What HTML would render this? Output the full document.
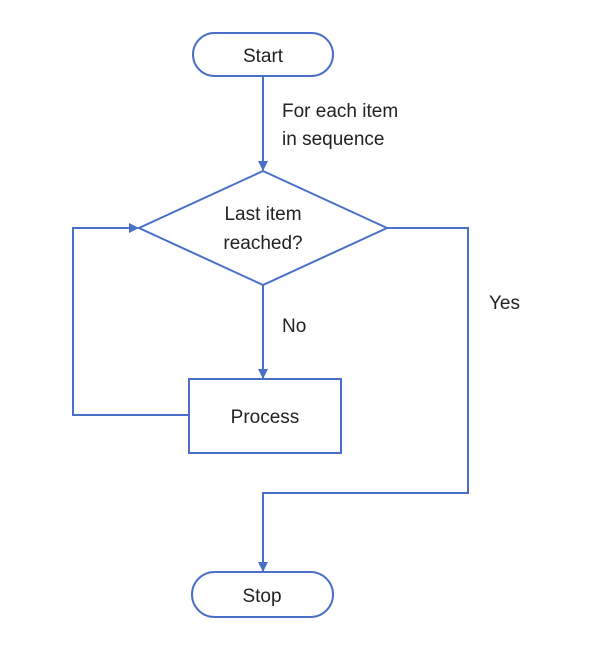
<!DOCTYPE html>
<html><head><style>body{margin:0;background:#fff}svg{display:block}</style></head><body>
<svg width="607" height="647" viewBox="0 0 607 647" xmlns="http://www.w3.org/2000/svg">
<defs><marker id="a" markerWidth="10" markerHeight="10" refX="9" refY="5" orient="auto" markerUnits="userSpaceOnUse"><path d="M0,0 L10,5 L0,10 z" fill="#4a6fc8"/></marker></defs>
<g fill="none" stroke="#4a6fc8" stroke-width="2">
<rect x="193" y="33" width="140" height="43" rx="21.5" fill="#fff"/>
<polygon points="263,171 387,228 263,285 139,228" fill="#fff"/>
<rect x="189" y="379" width="152" height="74" fill="#fff"/>
<rect x="192" y="572" width="141" height="45" rx="22.5" fill="#fff"/>
<line x1="263" y1="76" x2="263" y2="170" marker-end="url(#a)"/>
<line x1="263" y1="285" x2="263" y2="378" marker-end="url(#a)"/>
<polyline points="189,415 73,415 73,228 138,228" marker-end="url(#a)"/>
<polyline points="387,228 468,228 468,493 263,493 263,571" marker-end="url(#a)"/>
</g>
<g font-family="Liberation Sans, sans-serif" font-size="19" fill="#222">
<text x="263" y="62" text-anchor="middle">Start</text>
<text x="282" y="117">For each item</text>
<text x="282" y="145">in sequence</text>
<text x="263" y="220" text-anchor="middle">Last item</text>
<text x="263" y="249" text-anchor="middle">reached?</text>
<text x="282" y="332">No</text>
<text x="489" y="309">Yes</text>
<text x="265" y="423" text-anchor="middle">Process</text>
<text x="262" y="602" text-anchor="middle">Stop</text>
</g>
</svg>
</body></html>
